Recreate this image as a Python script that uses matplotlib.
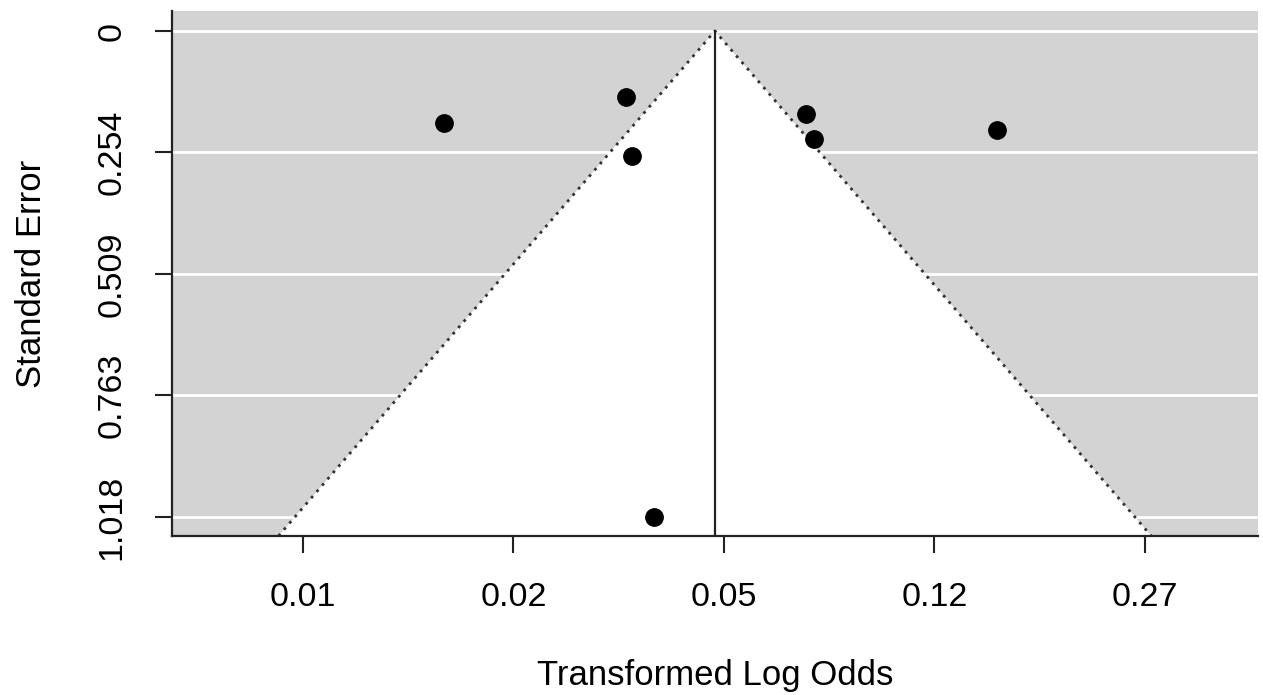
import numpy as np
import matplotlib
matplotlib.use("Agg")
import matplotlib.pyplot as plt

plt.rcParams['font.family'] = ['Liberation Sans', 'DejaVu Sans']

# Data (x in transformed log-odds units, SE)
x_vals = [0.670, 1.533, 1.562, 2.390, 2.428, 3.297, 1.667]
se_vals = [0.193, 0.138, 0.262, 0.174, 0.226, 0.207, 1.018]
center = 1.957
x_ticks = [0, 1, 2, 3, 4]
x_labels = ["0.01", "0.02", "0.05", "0.12", "0.27"]
y_ticks = [0, 0.254, 0.509, 0.763, 1.018]
y_labels = ["0", "0.254", "0.509", "0.763", "1.018"]
z = 1.96

fig = plt.figure(figsize=(12.63, 6.95), dpi=100)
ax = fig.add_axes([172/1263, 1-536/695, (1258-172)/1263, (536-11)/695])

xlim = (-0.622, 4.537)
ylim_bottom = 1.0578
ylim_top = -0.0419
ax.set_xlim(*xlim)
ax.set_ylim(ylim_bottom, ylim_top)

ax.set_facecolor('#d3d3d3')
se_b = ylim_bottom
ax.fill([center, center - z*se_b, center + z*se_b], [0, se_b, se_b],
        color='white', zorder=1, lw=0)
for yt in y_ticks:
    ax.axhline(yt, color='white', lw=2, zorder=0.5)
ax.plot([center - z*se_b, center, center + z*se_b], [se_b, 0, se_b],
        color='#333333', lw=2.0, linestyle=(0, (1, 2.0)), zorder=2)
ax.plot([center, center], [0, se_b], color='#222222', lw=1.6, zorder=2)
ax.plot(x_vals, se_vals, 'o', color='black', markersize=12.5, zorder=3)

ax.set_xticks(x_ticks)
ax.set_xticklabels(x_labels)
ax.set_yticks(y_ticks)
ax.set_yticklabels(y_labels, rotation=90, va='center')
ax.tick_params(axis='both', labelsize=24.5, length=12, width=1.5, color='#222222')
ax.tick_params(axis='x', pad=21)
ax.tick_params(axis='y', pad=20)
for s in ['top', 'right']:
    ax.spines[s].set_visible(False)
for s in ['left', 'bottom']:
    ax.spines[s].set_linewidth(1.6)
    ax.spines[s].set_color('#222222')

ax.set_xlabel("Transformed Log Odds", fontsize=25, labelpad=33)
ax.set_ylabel("Standard Error", fontsize=25, labelpad=35)

fig.savefig("out.png", dpi=100)
